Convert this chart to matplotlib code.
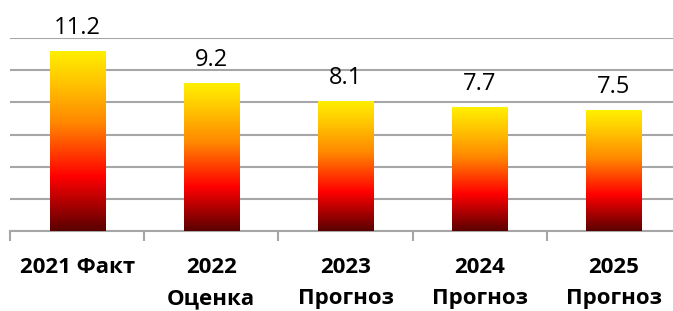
import numpy as np
import matplotlib.pyplot as plt
from matplotlib.colors import LinearSegmentedColormap

years = ['2021 Факт', '2022\nОценка', '2023\nПрогноз', '2024\nПрогноз', '2025\nПрогноз']
values = [11.2, 9.2, 8.1, 7.7, 7.5]

plt.rcParams['font.family'] = ['Open Sans', 'DejaVu Sans']

fire = LinearSegmentedColormap.from_list('fire', [
    (0.0, '#5a0000'), (0.3, '#ff0000'), (0.6, '#ff8800'),
    (0.82, '#ffc400'), (1.0, '#fff000')])

fig = plt.figure(figsize=(6.73, 3.11), dpi=100)
ax = fig.add_axes([10 / 673, 80 / 311, 671 / 673, 193 / 311])

x = np.arange(len(values))
bars = ax.bar(x, values, width=0.41, color='none', zorder=3)

grad = np.linspace(0, 1, 256).reshape(-1, 1)
for b in bars:
    x0, w, h = b.get_x(), b.get_width(), b.get_height()
    im = ax.imshow(grad, extent=[x0, x0 + w, 0, h], origin='lower',
                   aspect='auto', cmap=fire, zorder=3)
    im.set_clip_path(b)

for xi, v in zip(x, values):
    ax.annotate(f'{v:.1f}', (xi, v), xytext=(0, 8), textcoords='offset points',
                ha='center', va='bottom', fontsize=17, color='#000000',
                annotation_clip=False)

ax.set_xlim(-0.5, len(values) - 0.5)
ax.set_ylim(0, 12)
ax.set_yticks(np.arange(0, 13, 2))
ax.yaxis.grid(True, color='#a6a6a6', linewidth=1.5, zorder=0)
ax.set_axisbelow(True)
ax.tick_params(axis='y', left=False, labelleft=False)

ax.set_xticks(x)
ax.set_xticklabels(years, fontsize=16, fontweight='bold', linespacing=1.6)
ax.set_xticks(np.arange(-0.5, len(values)), minor=True)
ax.tick_params(axis='x', which='major', length=0, pad=19)
ax.tick_params(axis='x', which='minor', length=7, width=1.5, color='#a6a6a6')

for s in ['top', 'left', 'right']:
    ax.spines[s].set_visible(False)
ax.spines['bottom'].set_color('#a6a6a6')
ax.spines['bottom'].set_linewidth(1.5)

fig.savefig('out.png', dpi=100)
